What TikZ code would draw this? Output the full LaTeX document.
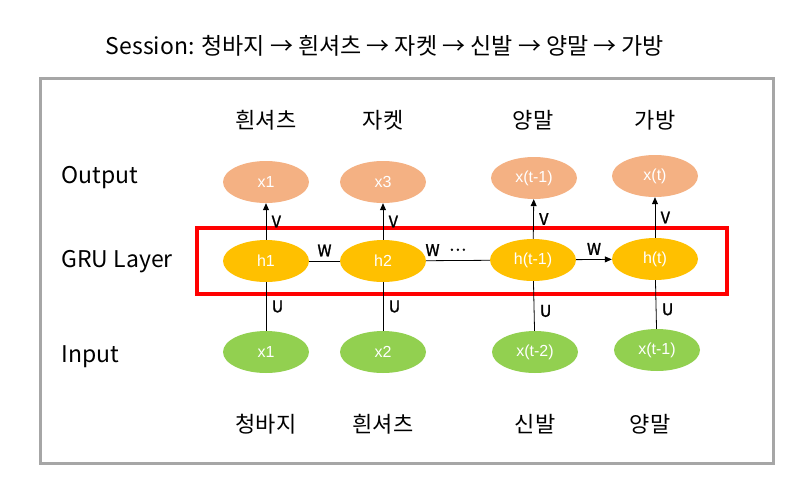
\documentclass[tikz,border=0pt]{standalone}
\usepackage{fontspec}
\setmainfont{Noto Sans CJK KR}
\newfontfamily\cellfont{Liberation Sans}
\newfontfamily\markfont{Noto Sans CJK KR}[FakeBold=1.5]
\usetikzlibrary{shapes.geometric,arrows.meta,positioning}
\definecolor{outcol}{HTML}{F4B183}
\definecolor{grucol}{HTML}{FFC000}
\definecolor{incol}{HTML}{92D050}
\definecolor{boxgray}{HTML}{A6A6A6}
\begin{document}
\begin{tikzpicture}[x=1pt,y=-1pt,
 cell/.style={ellipse,draw=none,minimum width=86pt,minimum height=42pt,inner sep=0pt,text=white,font=\cellfont\fontsize{16}{16}\selectfont},
 outcell/.style={cell,fill=outcol},
 grucell/.style={cell,fill=grucol},
 incell/.style={cell,fill=incol},
 rowlabel/.style={anchor=west,font=\fontsize{23}{23}\selectfont},
 item/.style={font=\fontsize{22}{22}\selectfont},
 wlabel/.style={font=\markfont\fontsize{16}{16}\selectfont},
 link/.style={draw=black,line width=0.8pt},
 arr/.style={link,-{Triangle[length=7pt,width=6pt]}}]
 \useasboundingbox (0,0) rectangle (807,493);
 % title and frame
 \node (title) at (385,46) {\fontsize{23}{23}\selectfont Session: 청바지 → 흰셔츠 → 자켓 → 신발 → 양말 → 가방};
 \draw [boxgray,line width=3pt](40,78) rectangle (773,463);
 \draw [red,line width=3.5pt](197,228) rectangle (727,294);
 % row labels
 \node [rowlabel] (lout) at (58,178) {Output};
 \node [rowlabel] (lgru) at (58,262) {GRU Layer};
 \node [rowlabel] (lin) at (58,357) {Input};
 % output row
 \node [item] (t1) at (266,120) {흰셔츠};
 \node [item] (t2) at (383,120) {자켓};
 \node [item] (t3) at (533,120) {양말};
 \node [item] (t4) at (655,120) {가방};
 \node [outcell] (o1) at (266,182) {x1};
 \node [outcell] (o2) at (383,182) {x3};
 \node [outcell] (o3) at (534,178) {x(t-1)};
 \node [outcell] (o4) at (655,176) {x(t)};
 % GRU row
 \node [grucell] (h1) at (266,261) {h1};
 \node [grucell] (h2) at (383,261) {h2};
 \node [grucell] (h3) at (533,260) {h(t-1)};
 \node [grucell] (h4) at (655,259) {h(t)};
 % input row
 \node [incell] (i1) at (266,352) {x1};
 \node [incell] (i2) at (383,352) {x2};
 \node [incell] (i3) at (535,352) {x(t-2)};
 \node [incell] (i4) at (657,350) {x(t-1)};
 \node [item] (b1) at (266,424) {청바지};
 \node [item] (b2) at (383,424) {흰셔츠};
 \node [item] (b3) at (535,424) {신발};
 \node [item] (b4) at (650,424) {양말};
 % connectors
 \draw [arr](h1) -- (o1) node [wlabel,pos=0.5,right=2pt] {V};
 \draw [arr](h2) -- (o2) node [wlabel,pos=0.5,right=2pt] {V};
 \draw [arr](h3) -- (o3) node [wlabel,pos=0.5,right=2pt] {V};
 \draw [arr](h4) -- (o4) node [wlabel,pos=0.5,right=2pt] {V};
 \draw [link](i1) -- (h1) node [wlabel,pos=0.5,right=2pt] {U};
 \draw [link](i2) -- (h2) node [wlabel,pos=0.5,right=2pt] {U};
 \draw [link](i3) -- (h3) node [wlabel,pos=0.4,right=2pt] {U};
 \draw [link](i4) -- (h4) node [wlabel,pos=0.4,right=2pt] {U};
 \draw [link](h1) -- (h2) node [wlabel,midway,above=1pt] {W};
 \draw [link](h2) -- (h3) node [wlabel,pos=0.1,above=1pt] (w2) {W};
 \node [wlabel,right=4pt of w2,yshift=-2pt,inner sep=0pt] (dots) {·\kern-3pt·\kern-3pt·};
 \draw [arr](h3) -- (h4) node [wlabel,midway,above=1pt] {W};
\end{tikzpicture}
\end{document}
